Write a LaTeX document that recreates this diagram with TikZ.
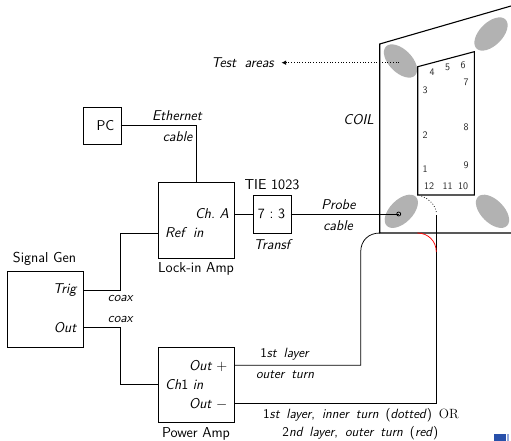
\documentclass[tikz,border=0pt]{standalone}
\usetikzlibrary{arrows.meta,shapes.geometric}
\definecolor{blobgray}{gray}{0.7}
\definecolor{cornerblue}{RGB}{40,80,170}
\definecolor{cornerlight}{RGB}{150,170,220}
\newcommand{\upd}[1]{\textup{#1}}
\newcommand{\nsp}{\hspace{.33em}}
\newcommand{\wideA}{\spaceskip=.6em\relax}
\newcommand{\wideB}{\spaceskip=.52em\relax}
\tikzset{
 x=1pt,y=-1pt,
 wire/.style={line width=0.75pt,black},
 boxst/.style={draw,line width=0.75pt,inner sep=0pt,anchor=north west},
 coilline/.style={line width=1.1pt,black,line join=miter},
 blobst/.style={fill=blobgray,draw=none,ellipse,minimum width=41pt,minimum height=23pt,inner sep=0pt},
 labst/.style={inner sep=0pt,font=\fontsize{14.2}{16}\selectfont\sffamily\slshape\wideA},
 namest/.style={inner sep=0pt,font=\fontsize{14.4}{16}\selectfont\sffamily},
 bigst/.style={inner sep=0pt,font=\fontsize{14.2}{16}\selectfont\sffamily},
 numst/.style={inner sep=0pt,font=\fontsize{10}{12}\selectfont\sffamily,text=black!85},
 smallst/.style={inner sep=0pt,font=\fontsize{13.4}{15}\selectfont\sffamily\slshape\wideB},
}
\begin{document}
\begin{tikzpicture}
\useasboundingbox (0,0) rectangle (511,441);
% blobs
\node[blobst,rotate=-45] (b1) at (400.5,61) {};
\node[blobst,rotate=45] (b2) at (491,34) {};
\node[blobst,rotate=45] (b3) at (401.3,211.3) {};
\node[blobst,rotate=-45] (b4) at (492.5,211.3) {};
% coil
\draw[coilline] (511,6) -- (379.7,44) -- (379.7,233) -- (511,233);
\draw[coilline] (417.7,66.7) -- (474.3,51.7) -- (474.3,195) -- (417.7,195) -- cycle;
% boxes
\node[boxst,minimum width=37.5pt,minimum height=37.5pt] (pc) at (83,106.8) {};
\node[bigst] (pct) at (105.5,125.5) {PC};
\node[boxst,minimum width=76pt,minimum height=75.5pt] (lia) at (158,182) {};
\node[boxst,minimum width=38pt,minimum height=37.5pt] (tr) at (252.7,195.3) {};
\node[boxst,minimum width=76pt,minimum height=75.5pt] (sg) at (7,271) {};
\node[boxst,minimum width=76pt,minimum height=75.6pt] (pa) at (158.2,346.7) {};
% helper coordinates
\coordinate (pcE) at (120.5,125.5);
\coordinate (liaN) at (196.5,182);
\coordinate (liaE) at (234,214);
\coordinate (liaW) at (158,233.3);
\coordinate (trW) at (252.7,214);
\coordinate (trE) at (290.7,214);
\coordinate (probe) at (398.7,214);
\coordinate (trig) at (83,290);
\coordinate (out) at (83,327.7);
\coordinate (ch1) at (158.2,384);
\coordinate (op) at (234.2,365.3);
\coordinate (om) at (234.2,403.3);
\coordinate (tip) at (281.5,62.7);
\coordinate (tst) at (399,62.7);
% wires
\draw[wire] (pcE) -| (liaN);
\draw[wire] (liaE) -- (trW);
\draw[wire] (trE) -- (probe);
\draw[wire] (probe) circle (2pt);
\draw[wire] (trig) -- (120.7,290) |- (liaW);
\draw[wire] (out) -- (120.7,327.7) |- (ch1);
\draw[wire] (op) -- (360.7,365.3) -- (360.7,252) .. controls (360.7,240) and (369,233) .. (380,233);
\draw[wire] (om) -- (436.3,403.3) -- (436.3,214.5);
\draw[red,line width=0.75pt] (436.3,252) .. controls (436.3,241) and (428,233) .. (417.3,233);
\draw[line width=0.75pt,dotted] (436.3,212) .. controls (435,205) and (429,198) .. (419.5,195.5);
\draw[wire,dotted,-{Latex[length=4.5pt,width=4.5pt]}] (tst) -- (tip);
% corner fragment
\fill[cornerblue] (494,434) rectangle (505.5,441);
\fill[cornerlight] (507,434) rectangle (509,441);
% labels
\node[labst,anchor=east] (ta) at (274,63) {Test areas};
\node[labst,anchor=east] (coilt) at (374,120) {COIL};
\node[labst] (eth) at (177,116) {Ethernet};
\node[labst] (cab1) at (177.5,137) {cable};
\node[namest] (tie) at (272,185) {TIE 1023};
\node[bigst] (ratio) at (271.5,214) {7\nsp:\nsp3};
\node[labst] (tf) at (272,244.5) {Transf};
\node[labst] (pr) at (338.5,204.5) {Probe};
\node[labst] (cb) at (338,225.5) {cable};
\node[labst,anchor=east] (cha) at (229,214) {Ch.\nsp A};
\node[labst,anchor=west] (ref) at (165,233) {Ref in};
\node[namest] (lk) at (196,269) {Lock-in Amp};
\node[namest] (sgt) at (44.5,258.5) {Signal Gen};
\node[labst,anchor=east] (trt) at (76.5,290) {Trig};
\node[labst,anchor=east] (ot) at (76.5,328) {Out};
\node[smallst] (cx1) at (120.3,298) {coax};
\node[smallst] (cx2) at (120.3,319) {coax};
\node[labst,anchor=east] (opt) at (227.5,366) {Out\nsp$+$};
\node[labst,anchor=west] (cht) at (165,385) {Ch\upd{1}\nsp in};
\node[labst,anchor=east] (omt) at (227.5,404) {Out\nsp$-$};
\node[namest] (pat) at (196,434) {Power Amp};
\node[smallst] (l1) at (284.5,354) {\upd{1}st layer};
\node[smallst] (l2) at (285,375) {outer turn};
\node[smallst] (l3) at (361,415) {\upd{1}st layer\upd{,} inner turn \upd{(}dotted\upd{)} {\normalfont\rmfamily OR}};
\node[smallst] (l4) at (360.3,433.5) {\upd{2}nd layer\upd{,} outer turn \upd{(}red\upd{)}};
% numbers
\node[numst] (n4) at (432,72) {4};
\node[numst] (n5) at (447.5,67.5) {5};
\node[numst] (n6) at (463,65) {6};
\node[numst] (n7) at (466,82.5) {7};
\node[numst] (n3) at (425,90) {3};
\node[numst] (n8) at (466,127.5) {8};
\node[numst] (n2) at (425,135.5) {2};
\node[numst] (n9) at (466,165.5) {9};
\node[numst] (n1) at (425,169.5) {1};
\node[numst] (n12) at (429,186.5) {12};
\node[numst] (n11) at (447.5,186.5) {11};
\node[numst] (n10) at (463,186.5) {10};
\end{tikzpicture}
\end{document}
